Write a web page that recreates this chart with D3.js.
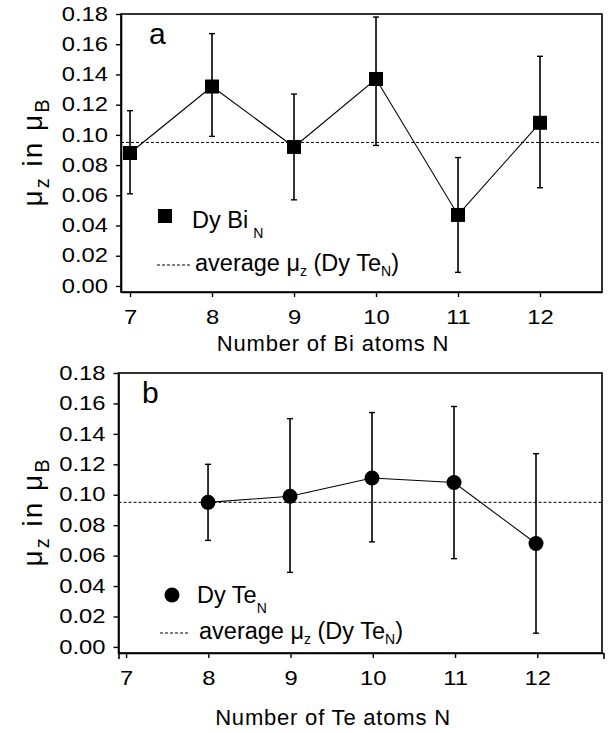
<!DOCTYPE html>
<html>
<head>
<meta charset="utf-8">
<script src="https://cdn.jsdelivr.net/npm/d3@7"></script>
<style>
  body { margin: 0; background: #fff; }
  text { font-family: "Liberation Sans", Arial, sans-serif; fill: #000; }
</style>
</head>
<body>
<svg id="chart" width="609" height="733"></svg>
<script>
// panel a: Dy Bi_N
const nBi = [7, 8, 9, 10, 11, 12];
const muBi = [0.088, 0.132, 0.092, 0.137, 0.047, 0.108];
const loBi = [0.061, 0.099, 0.057, 0.093, 0.009, 0.065];
const hiBi = [0.116, 0.167, 0.127, 0.178, 0.085, 0.152];

// panel b: Dy Te_N
const nTe = [8, 9, 10, 11, 12];
const muTe = [0.095, 0.099, 0.111, 0.108, 0.068];
const loTe = [0.070, 0.049, 0.069, 0.058, 0.009];
const hiTe = [0.120, 0.150, 0.154, 0.158, 0.127];

const avgMu = 0.095;
const yTicks = [0, 0.02, 0.04, 0.06, 0.08, 0.10, 0.12, 0.14, 0.16, 0.18];
const xTicks = [7, 8, 9, 10, 11, 12];

const svg = d3.select('#chart');
const stretch = 1.22; // tick labels in the original are a wide face

function drawPanel(opt) {
    const g = svg.append('g');
    const x = d3.scaleLinear().domain(opt.xDomain).range([opt.left, opt.right]);
    const y = d3.scaleLinear().domain([-0.004, 0.18]).range([opt.bottom, opt.top]);

    // frame
    g.append('rect')
        .attr('x', opt.left).attr('y', opt.top)
        .attr('width', opt.right - opt.left).attr('height', opt.bottom - opt.top)
        .attr('fill', 'none').attr('stroke', '#000').attr('stroke-width', 1.6);

    // y axis
    const yAxis = g.append('g')
        .attr('transform', `translate(${opt.left},0)`)
        .call(d3.axisLeft(y).tickValues(yTicks).tickFormat(d3.format('.2f')).tickSize(5).tickSizeOuter(0).tickPadding(8));
    // x axis
    const xAxis = g.append('g')
        .attr('transform', `translate(0,${opt.bottom})`)
        .call(d3.axisBottom(d3.scaleLinear().domain(opt.xDomain).range([opt.left, opt.right + opt.xExtra]))
            .tickValues(xTicks).tickFormat(d3.format('d')).tickSize(5).tickSizeOuter(opt.xExtra ? 6 : 0).tickPadding(13));
    [yAxis, xAxis].forEach(a => {
        a.select('.domain').attr('stroke-width', 1.6);
        a.selectAll('.tick line').attr('stroke-width', 1.4);
        a.selectAll('.tick text')
            .style('font-size', '19.5px')
            .attr('fill', '#000')
            .attr('transform', `scale(${stretch},1)`);
    });
    yAxis.selectAll('.tick text').attr('x', -13 / stretch);

    // x axis title
    g.append('text')
        .attr('x', opt.titleX).attr('y', opt.titleY)
        .attr('text-anchor', 'middle')
        .style('font-size', '22px')
        .style('letter-spacing', '0.8px')
        .text(opt.xTitle);

    // y axis title
    const yt = g.append('text')
        .attr('transform', `translate(42,${opt.yTitleY}) rotate(-90)`)
        .attr('text-anchor', 'middle')
        .style('font-size', '28px')
        .style('letter-spacing', '2px');
    yt.append('tspan').text('\u03bc');
    yt.append('tspan').attr('dy', 7).style('font-size', '20px').text('z');
    yt.append('tspan').attr('dy', -7).text(' in \u03bc');
    yt.append('tspan').attr('dy', 7).style('font-size', '20px').text('B');

    // panel letter
    g.append('text')
        .attr('x', opt.letterX).attr('y', opt.top + 30)
        .style('font-size', '30px')
        .text(opt.letter);

    // average line
    g.append('line')
        .attr('x1', opt.left).attr('x2', opt.right)
        .attr('y1', y(avgMu)).attr('y2', y(avgMu))
        .attr('stroke', '#000').attr('stroke-width', 1).attr('stroke-dasharray', '3,2');

    const pts = opt.n.map((n, i) => ({ n: n, v: opt.mu[i], lo: opt.lo[i], hi: opt.hi[i] }));

    // connecting line
    g.append('path')
        .datum(pts)
        .attr('fill', 'none').attr('stroke', '#000').attr('stroke-width', 1.1)
        .attr('d', d3.line().x(d => x(d.n)).y(d => y(d.v)));

    // error bars
    const eb = g.selectAll('.eb').data(pts).enter().append('g').attr('class', 'eb');
    eb.append('line')
        .attr('x1', d => x(d.n)).attr('x2', d => x(d.n))
        .attr('y1', d => y(d.lo)).attr('y2', d => y(d.hi))
        .attr('stroke', '#000').attr('stroke-width', 1.6);
    eb.selectAll('.cap').data(d => [[d.n, d.lo], [d.n, d.hi]]).enter().append('line')
        .attr('x1', d => x(d[0]) - 3).attr('x2', d => x(d[0]) + 3)
        .attr('y1', d => y(d[1])).attr('y2', d => y(d[1]))
        .attr('stroke', '#000').attr('stroke-width', 1.4);

    // markers
    if (opt.marker === 'square') {
        g.selectAll('.m').data(pts).enter().append('rect')
            .attr('x', d => x(d.n) - 7).attr('y', d => y(d.v) - 7)
            .attr('width', 14).attr('height', 14).attr('fill', '#000');
    } else {
        g.selectAll('.m').data(pts).enter().append('circle')
            .attr('cx', d => x(d.n)).attr('cy', d => y(d.v))
            .attr('r', 7.5).attr('fill', '#000');
    }

    // legend
    const lx = opt.legX, ly = opt.legY;
    if (opt.marker === 'square') {
        g.append('rect').attr('x', lx - 7).attr('y', ly - 7).attr('width', 14).attr('height', 14).attr('fill', '#000');
    } else {
        g.append('circle').attr('cx', lx).attr('cy', ly).attr('r', 7.5).attr('fill', '#000');
    }
    const lt = g.append('text')
        .attr('x', lx + opt.nameDx).attr('y', ly + opt.nameDy)
        .style('font-size', '23.5px');
    lt.append('tspan').text(opt.legName);
    lt.append('tspan').attr('dx', opt.subGap).attr('dy', 10).style('font-size', '14px').text('N');

    g.append('line')
        .attr('x1', lx + opt.dashX[0]).attr('x2', lx + opt.dashX[1])
        .attr('y1', ly + opt.avgDy).attr('y2', ly + opt.avgDy)
        .attr('stroke', '#000').attr('stroke-width', 1).attr('stroke-dasharray', '3,2');
    const at = g.append('text')
        .attr('x', lx + opt.avgDx).attr('y', ly + opt.avgDy + 6)
        .style('font-size', '23.5px');
    at.append('tspan').text('average \u03bc');
    at.append('tspan').attr('dy', 5).style('font-size', '14px').text('z');
    at.append('tspan').attr('dy', -5).text(' (Dy Te');
    at.append('tspan').attr('dy', 5).style('font-size', '14px').text('N');
    at.append('tspan').attr('dy', -5).text(')');
}

drawPanel({
    left: 121, right: 602, top: 14, bottom: 292, xExtra: 0,
    xDomain: [6.89, 12.756],
    n: nBi, mu: muBi, lo: loBi, hi: hiBi,
    marker: 'square', letter: 'a', letterX: 149,
    xTitle: 'Number of Bi atoms N', titleX: 333, titleY: 351,
    yTitleY: 152,
    legX: 165, legY: 216, legName: 'Dy Bi', nameDx: 27, nameDy: 12, subGap: 5,
    avgDy: 49, avgDx: 30, dashX: [-8, 25]
});

drawPanel({
    left: 118.5, right: 602, top: 373, bottom: 653, xExtra: 1.5,
    xDomain: [6.908, 12.805],
    n: nTe, mu: muTe, lo: loTe, hi: hiTe,
    marker: 'circle', letter: 'b', letterX: 142,
    xTitle: 'Number of Te atoms N', titleX: 333, titleY: 725,
    yTitleY: 512,
    legX: 172, legY: 595, legName: 'Dy Te', nameDx: 25, nameDy: 8, subGap: 0,
    avgDy: 38, avgDx: 27, dashX: [-12, 18]
});
</script>
</body>
</html>
